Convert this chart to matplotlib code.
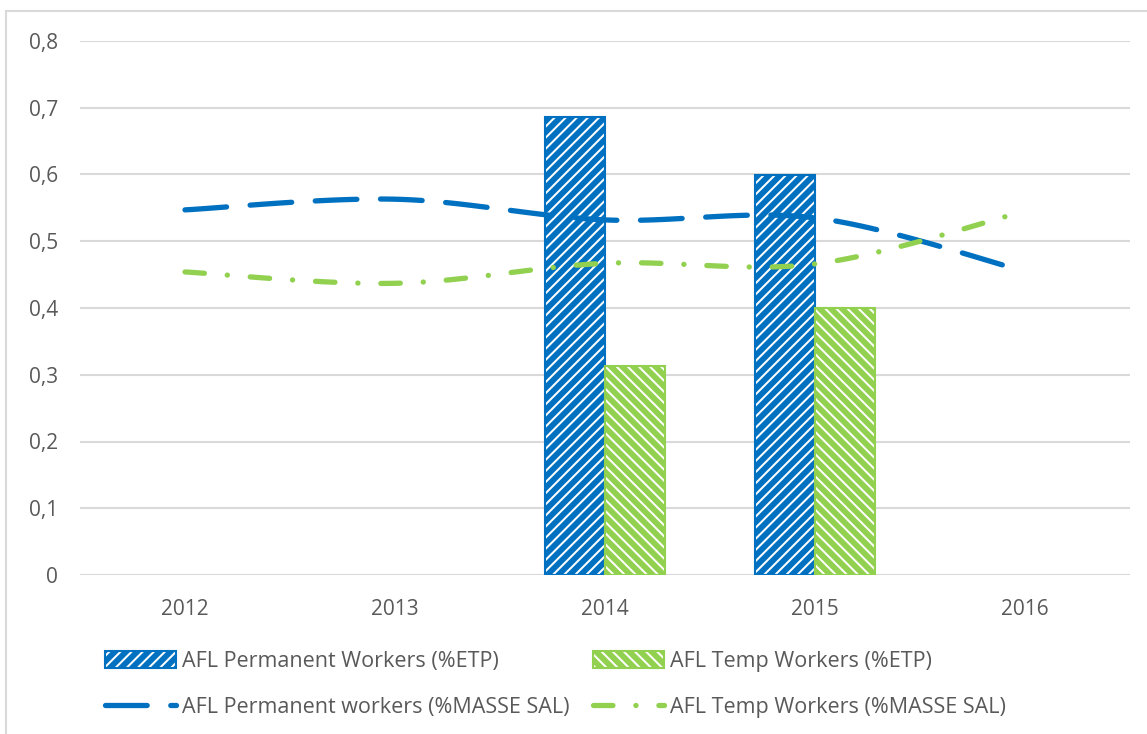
import numpy as np
import matplotlib
matplotlib.use("Agg")
import matplotlib.pyplot as plt
from matplotlib.patches import Rectangle
from matplotlib.ticker import FuncFormatter, MultipleLocator

YEARS = ["2012", "2013", "2014", "2015", "2016"]

# share of payroll (lines) - every year
PERM_MASSE = [0.547, 0.563, 0.532, 0.535, 0.455]
TEMP_MASSE = [0.454, 0.437, 0.467, 0.466, 0.545]

# share of FTE (bars) - only 2014 and 2015
PERM_ETP = [None, None, 0.686, 0.600, None]
TEMP_ETP = [None, None, 0.313, 0.400, None]

BLUE = "#0070C0"
GREEN = "#92D050"
TEXT = "#595959"
GRID = "#D9D9D9"

plt.rcParams["font.family"] = ["Open Sans", "DejaVu Sans"]
plt.rcParams["hatch.linewidth"] = 4.2
plt.rcParams["lines.scale_dashes"] = False


def smooth(y, steps=30):
    # bezier smoothing, control points at 1/6 of neighbour differences
    x = np.arange(len(y), dtype=float)
    y = np.asarray(y, dtype=float)
    pts = np.column_stack([x, y])
    n = len(pts)
    out = []
    for i in range(n - 1):
        p0 = pts[max(i - 1, 0)]
        p1 = pts[i]
        p2 = pts[i + 1]
        p3 = pts[min(i + 2, n - 1)]
        c1 = p1 + (p2 - p0) / 6
        c2 = p2 - (p3 - p1) / 6
        t = np.linspace(0, 1, steps)[:, None]
        seg = ((1 - t) ** 3) * p1 + 3 * ((1 - t) ** 2) * t * c1 + 3 * (1 - t) * t ** 2 * c2 + t ** 3 * p2
        out.append(seg if i == 0 else seg[1:])
    seg = np.vstack(out)
    return seg[:, 0], seg[:, 1]


fig = plt.figure(figsize=(11.47, 7.34), dpi=100)
ax = fig.add_axes([80 / 1147, 1 - 575 / 734, 1050 / 1147, 534 / 734])

x = np.arange(len(YEARS))
w = 0.286

px = [i for i, v in enumerate(PERM_ETP) if v is not None]
pv = [v for v in PERM_ETP if v is not None]
b1 = ax.bar(np.array(px) - w / 2, pv, w, facecolor="white", edgecolor=BLUE,
            hatch="///", linewidth=1.5, zorder=2, label="AFL Permanent Workers (%ETP)")

tx = [i for i, v in enumerate(TEMP_ETP) if v is not None]
tv = [v for v in TEMP_ETP if v is not None]
b2 = ax.bar(np.array(tx) + w / 2, tv, w, facecolor="white", edgecolor=GREEN,
            hatch="\\\\\\", linewidth=1.5, zorder=2, label="AFL Temp Workers (%ETP)")

sx, sy = smooth(PERM_MASSE)
l1, = ax.plot(sx, sy, color=BLUE, lw=3.8, dash_capstyle="round", zorder=3,
              label="AFL Permanent workers (%MASSE SAL)")
l1.set_dashes((30, 17))

sx, sy = smooth(TEMP_MASSE)
l2, = ax.plot(sx, sy, color=GREEN, lw=3.8, dash_capstyle="round", zorder=3,
              label="AFL Temp Workers (%MASSE SAL)")
l2.set_dashes((14, 16.5, 0.1, 16.5))

ax.set_xlim(-0.5, 4.5)
ax.set_ylim(0, 0.8)
ax.yaxis.set_major_locator(MultipleLocator(0.1))
ax.yaxis.set_major_formatter(FuncFormatter(lambda v, p: "0" if abs(v) < 1e-9 else f"{v:.1f}".replace(".", ",")))
ax.set_xticks(x)
ax.set_xticklabels(YEARS)
ax.grid(axis="y", color=GRID, lw=1.5, zorder=0)
ax.set_axisbelow(True)
for s in ax.spines.values():
    s.set_visible(False)
ax.tick_params(length=0, labelsize=15, colors=TEXT)
ax.tick_params(axis="y", pad=16)
ax.tick_params(axis="x", pad=17)

leg = fig.legend([b1, l1, b2, l2],
                 [b1.get_label(), l1.get_label(), b2.get_label(), l2.get_label()],
                 ncol=2, loc="upper left", bbox_to_anchor=(105 / 1147, 1 - 651 / 734),
                 frameon=False, fontsize=15.5, labelcolor=TEXT,
                 handlelength=3.3, handleheight=0.8, handletextpad=0.3,
                 columnspacing=1.05, labelspacing=1.15, borderaxespad=0, borderpad=0)

# chart border
fig.patches.append(Rectangle((6 / 1147, -0.1), 1.2, 1.1 - 11 / 734, transform=fig.transFigure,
                             fill=False, edgecolor=GRID, lw=1.5, clip_on=False))

fig.savefig("out.png", dpi=100)
